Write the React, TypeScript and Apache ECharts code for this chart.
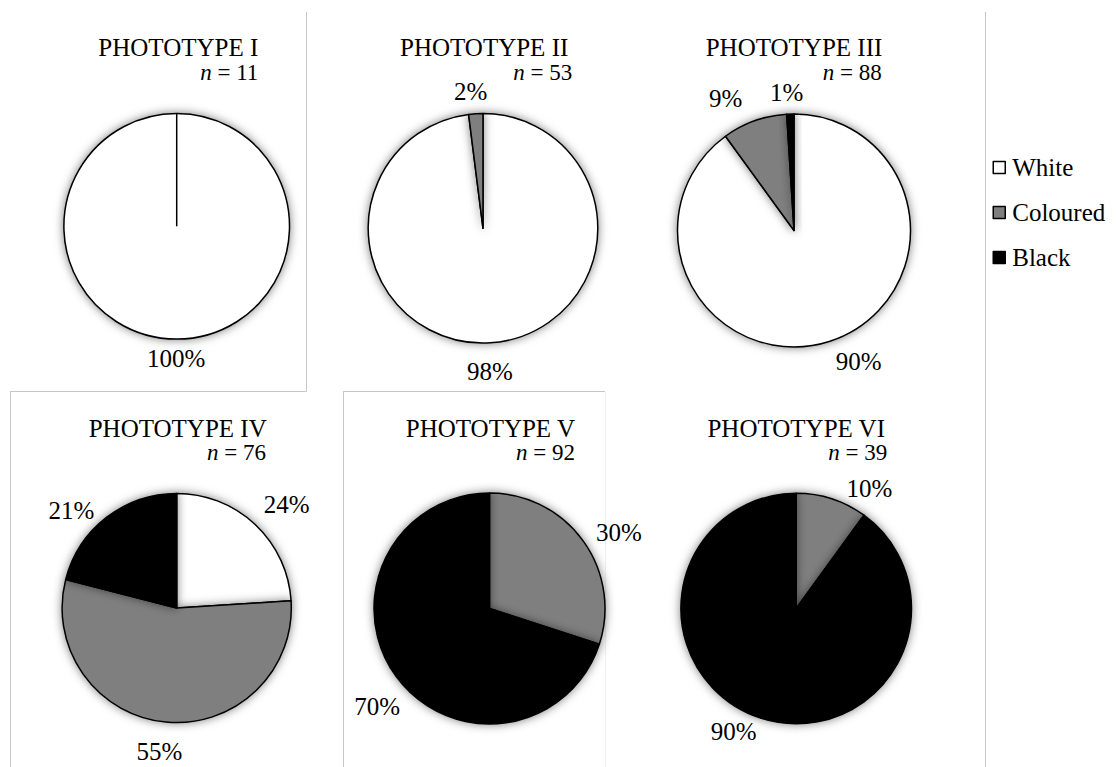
import React, { useEffect, useRef } from 'react';
import * as echarts from 'echarts';

// ---------- data ----------
const categories = ['White', 'Coloured', 'Black'];
const panelTitles = ['PHOTOTYPE I', 'PHOTOTYPE II', 'PHOTOTYPE III', 'PHOTOTYPE IV', 'PHOTOTYPE V', 'PHOTOTYPE VI'];
const sampleSizes = [11, 53, 88, 76, 92, 39];
const phototypeI = [100, 0, 0];
const phototypeII = [98, 2, 0];
const phototypeIII = [90, 9, 1];
const phototypeIV = [24, 55, 21];
const phototypeV = [0, 30, 70];
const phototypeVI = [0, 10, 90];
const panelValues = [phototypeI, phototypeII, phototypeIII, phototypeIV, phototypeV, phototypeVI];

// ---------- layout / style ----------
const FONT = 'Liberation Serif';
const sliceColors = ['#ffffff', '#7f7f7f', '#000000'];
const pieCenters = [
  [176.7, 226.3], [483, 228.3], [794, 230.5],
  [176.7, 608], [489.5, 608.5], [796.2, 608.5],
];
const pieRadii = [112.8, 114.8, 116.5, 114.6, 115.5, 115.3];
const titleRight = [258.3, 568.3, 882.3, 266.7, 575, 885];
const nRight = [258.3, 572.3, 881.7, 266, 575, 887.3];
const titleTopRow = [35, 416];
const nTopRow = [60.7, 440.7];
// label placement (angle clockwise from 12 o'clock in degrees, distance from centre in px)
const labelSpots: (number[] | null)[][] = [
  [[180.2, 132.7], null, null],
  [[177.2, 142.9], [354.8, 137.2], null],
  [[153.7, 145.9], [332.7, 148.8], [357, 138.2]],
  [[46.7, 151], [186.9, 144.7], [312.9, 143.9]],
  [null, [59.4, 150.2], [228.8, 149.2]],
  [null, [31.4, 140.3], [206.9, 138.1]],
];
const borderLines = [
  [306.5, 12, 306.5, 391.5, '#c6c6c6'],
  [10, 391.5, 306.5, 391.5, '#c6c6c6'],
  [10.5, 391.5, 10.5, 767, '#c6c6c6'],
  [343, 391.5, 605, 391.5, '#c6c6c6'],
  [343.5, 391.5, 343.5, 767, '#c6c6c6'],
  [605.5, 392, 605.5, 767, '#efefef'],
  [985.5, 12, 985.5, 767, '#c6c6c6'],
];

export default function App() {
  const ref = useRef<HTMLDivElement>(null);
  useEffect(() => {
    document.body.style.margin = '0';
    if (!ref.current) return;
    const chart = echarts.init(ref.current, null, { renderer: 'svg' });

    const titles: any[] = [];
    panelTitles.forEach((t, i) => {
      const row = i < 3 ? 0 : 1;
      titles.push({
        text: t,
        left: titleRight[i],
        top: titleTopRow[row],
        textAlign: 'right',
        textVerticalAlign: 'top',
        padding: 0,
        textStyle: { fontFamily: FONT, fontSize: 25, fontWeight: 'normal', color: '#000', lineHeight: 25 },
      });
      titles.push({
        text: `{i|n} = ${sampleSizes[i]}`,
        left: nRight[i],
        top: nTopRow[row],
        textAlign: 'right',
        textVerticalAlign: 'top',
        padding: 0,
        textStyle: {
          fontFamily: FONT, fontSize: 23, fontWeight: 'normal', color: '#000', lineHeight: 23,
          rich: { i: { fontFamily: FONT, fontSize: 23, fontStyle: 'italic', color: '#000', lineHeight: 23 } },
        },
      });
    });

    const series = panelValues.map((vals, s) => ({
      type: 'pie',
      name: panelTitles[s],
      center: pieCenters[s],
      radius: pieRadii[s],
      startAngle: 90,
      clockwise: true,
      avoidLabelOverlap: false,
      silent: true,
      emphasis: { disabled: true },
      itemStyle: {
        borderColor: '#000',
        borderWidth: 1.5,
        shadowBlur: 10,
        shadowColor: 'rgba(0,0,0,0.5)',
      },
      label: {
        show: true,
        position: 'outside',
        formatter: (p: any) => `${p.value}%`,
        fontFamily: FONT,
        fontSize: 25,
        color: '#000',
      },
      labelLine: { show: false },
      labelLayout: (p: any) => {
        const spot = labelSpots[s][p.dataIndex];
        if (!spot) return {};
        const a = (spot[0] * Math.PI) / 180;
        const [cx, cy] = pieCenters[s];
        return {
          x: cx + spot[1] * Math.sin(a),
          y: cy - spot[1] * Math.cos(a),
          align: 'center',
          verticalAlign: 'middle',
        };
      },
      data: categories.map((c, i) => ({
        name: c,
        value: vals[i],
        itemStyle: { color: sliceColors[i] },
        label: { show: vals[i] > 0 },
      })),
    }));

    // a pie that is one whole slice still shows its start edge (centre to 12 o'clock)
    const wholeSliceEdges = panelValues
      .map((vals, s) => ({ vals, s }))
      .filter(({ vals }) => vals.filter((v) => v > 0).length === 1)
      .map(({ s }) => ({
        type: 'line',
        silent: true,
        z: 10,
        shape: {
          x1: pieCenters[s][0], y1: pieCenters[s][1],
          x2: pieCenters[s][0], y2: pieCenters[s][1] - pieRadii[s],
        },
        style: { stroke: '#000', lineWidth: 1.5 },
      }));

    chart.setOption({
      animation: false,
      backgroundColor: '#ffffff',
      title: titles,
      legend: {
        data: categories,
        orient: 'vertical',
        left: 992.5,
        top: 155,
        padding: 0,
        itemWidth: 12,
        itemHeight: 12,
        itemGap: 20,
        icon: 'rect',
        selectedMode: false,
        itemStyle: { borderColor: '#000', borderWidth: 1.5, shadowBlur: 0, shadowColor: 'transparent' },
        textStyle: { fontFamily: FONT, fontSize: 25, color: '#000', lineHeight: 25, padding: [0, 0, 0, 2] },
      },
      graphic: [
        ...borderLines.map((l) => ({
          type: 'line',
          silent: true,
          shape: { x1: l[0], y1: l[1], x2: l[2], y2: l[3] },
          style: { stroke: l[4], lineWidth: 1 },
        })),
        ...wholeSliceEdges,
      ],
      series,
    });
    return () => chart.dispose();
  }, []);
  return <div ref={ref} style={{ width: 1116, height: 767 }} />;
}
